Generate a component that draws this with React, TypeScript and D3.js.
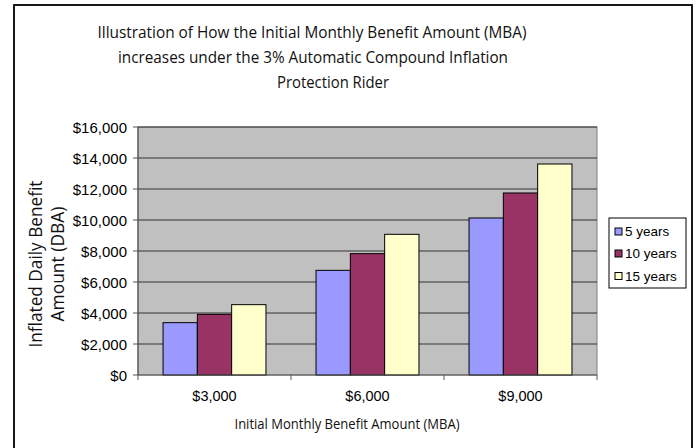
import React from "react";
import * as d3 from "d3";

const categories = ["$3,000", "$6,000", "$9,000"];
const series = ["5 years", "10 years", "15 years"];
const values5 = [3377, 6753, 10130];
const values10 = [3914, 7829, 11743];
const values15 = [4538, 9076, 13613];
const seriesValues = [values5, values10, values15];
const colors = ["#9999FF", "#993366", "#FFFFCC"];
const yTicks = [0, 2000, 4000, 6000, 8000, 10000, 12000, 14000, 16000];
const titleLines = [
  "Illustration of How the Initial Monthly Benefit Amount (MBA)",
  "increases under the 3% Automatic Compound Inflation",
  "Protection Rider",
];
const yTitleLines = ["Inflated Daily Benefit", "Amount (DBA)"];
const xTitle = "Initial Monthly Benefit Amount (MBA)";

const W = 697;
const H = 448;
const plot = { left: 138, right: 597, top: 127, bottom: 375 };
const condensed = "'Open Sans', Lato, sans-serif";
const arial = "'Liberation Sans', Arial, sans-serif";

export default function App() {
  const x0 = d3.scaleBand<string>().domain(categories).range([plot.left, plot.right]).padding(0);
  const x1 = d3
    .scaleBand<string>()
    .domain(series)
    .range([0, x0.bandwidth()])
    .paddingInner(0)
    .paddingOuter(0.73);
  const y = d3.scaleLinear().domain([0, 16000]).range([plot.bottom, plot.top]);
  const fmt = (v: number) => "$" + d3.format(",")(v);

  const titleX = [312, 313, 333];
  const titleY = [32, 57, 82];
  const titleLen = [429, 390, 112];

  const catEdges = categories.map((c) => x0(c) as number).concat([plot.right]);

  return (
    <svg width={W} height={H} style={{ position: "absolute", left: 0, top: 0, background: "#fff" }}>
      {/* outer border */}
      <rect x={14} y={5} width={678} height={460} fill="#fff" stroke="#000" strokeWidth={1.8} />

      {titleLines.map((t, i) => (
        <text
          key={i}
          x={titleX[i]}
          y={titleY[i]}
          textAnchor="middle"
          dominantBaseline="central"
          fontFamily={condensed}
          fontSize={16}
          textLength={titleLen[i]}
          lengthAdjust="spacingAndGlyphs"
          fill="#111"
        >
          {t}
        </text>
      ))}

      {/* plot background */}
      <rect
        x={plot.left}
        y={plot.top}
        width={plot.right - plot.left}
        height={plot.bottom - plot.top}
        fill="#C0C0C0"
        stroke="#808080"
        strokeWidth={1}
      />
      {/* gridlines */}
      {yTicks.slice(1).map((t) => (
        <line key={t} x1={plot.left} x2={plot.right} y1={y(t)} y2={y(t)} stroke="#333" strokeWidth={1.2} />
      ))}

      {/* bars */}
      {categories.map((c, ci) => (
        <g key={c} transform={`translate(${x0(c)},0)`}>
          {series.map((s, si) => {
            const v = seriesValues[si][ci];
            return (
              <rect
                key={s}
                x={x1(s)}
                y={y(v)}
                width={x1.bandwidth()}
                height={y(0) - y(v)}
                fill={colors[si]}
                stroke="#000"
                strokeWidth={1}
              />
            );
          })}
        </g>
      ))}

      {/* axes */}
      <line x1={plot.left} x2={plot.left} y1={plot.top} y2={plot.bottom} stroke="#555" strokeWidth={1.2} />
      <line x1={plot.left} x2={plot.right} y1={plot.bottom} y2={plot.bottom} stroke="#555" strokeWidth={1.2} />
      {yTicks.map((t) => (
        <g key={t}>
          <line x1={plot.left - 5} x2={plot.left} y1={y(t)} y2={y(t)} stroke="#555" strokeWidth={1} />
          <text
            x={127}
            y={y(t)}
            textAnchor="end"
            dominantBaseline="central"
            fontFamily={arial}
            fontSize={15}
            fill="#000"
          >
            {fmt(t)}
          </text>
        </g>
      ))}
      {catEdges.map((e, i) => (
        <line key={i} x1={e} x2={e} y1={plot.bottom} y2={plot.bottom + 5} stroke="#555" strokeWidth={1} />
      ))}
      {categories.map((c) => (
        <text
          key={c}
          x={(x0(c) as number) + x0.bandwidth() / 2}
          y={396}
          textAnchor="middle"
          dominantBaseline="central"
          fontFamily={arial}
          fontSize={14.5}
          fill="#000"
        >
          {c}
        </text>
      ))}

      <text
        x={347}
        y={423}
        textAnchor="middle"
        dominantBaseline="central"
        fontFamily={condensed}
        fontSize={14}
        textLength={225}
        lengthAdjust="spacingAndGlyphs"
        fill="#111"
      >
        {xTitle}
      </text>

      {yTitleLines.map((t, i) => (
        <text
          key={i}
          transform={`translate(${[35, 57][i]},264) rotate(-90)`}
          textAnchor="middle"
          dominantBaseline="central"
          fontFamily={condensed}
          fontSize={18}
          textLength={[167, 115][i]}
          lengthAdjust="spacingAndGlyphs"
          fill="#111"
        >
          {t}
        </text>
      ))}

      {/* legend */}
      <rect x={609} y={218} width={77} height={70} fill="#fff" stroke="#000" strokeWidth={1} />
      {series.map((s, i) => {
        const cy = [231.5, 253.5, 276][i];
        return (
          <g key={s}>
            <rect x={615} y={cy - 3.5} width={7} height={7} fill={colors[i]} stroke="#000" strokeWidth={1} />
            <text x={625} y={cy} dominantBaseline="central" fontFamily={arial} fontSize={13.5} fill="#000">
              {s}
            </text>
          </g>
        );
      })}
    </svg>
  );
}
